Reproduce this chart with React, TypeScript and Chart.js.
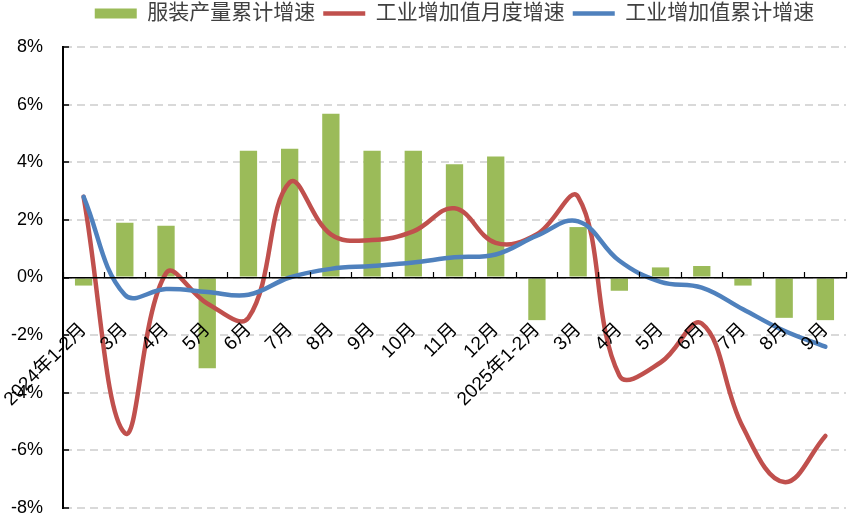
import React, { useEffect, useRef } from 'react';
import { Chart, registerables } from 'chart.js';

Chart.register(...registerables);

const categories = [
  '2024年1-2月', '3月', '4月', '5月', '6月', '7月', '8月', '9月', '10月', '11月', '12月',
  '2025年1-2月', '3月', '4月', '5月', '6月', '7月', '8月', '9月',
];

// 服装产量累计增速 (%)
const apparelOutputCum = [-0.28, 1.9, 1.8, -3.15, 4.4, 4.47, 5.68, 4.4, 4.4, 3.93, 4.2, -1.48, 1.75, -0.46, 0.35, 0.4, -0.28, -1.4, -1.48];
// 工业增加值月度增速 (%)
const industryMonthly = [2.8, -5.4, 0.15, -0.9, -1.4, 3.3, 1.5, 1.3, 1.6, 2.4, 1.2, 1.5, 2.8, -3.4, -2.95, -1.6, -5.2, -7.1, -5.5];
// 工业增加值累计增速 (%)
const industryCum = [2.8, -0.6, -0.4, -0.5, -0.6, 0.0, 0.3, 0.4, 0.52, 0.7, 0.8, 1.45, 1.95, 0.58, -0.15, -0.35, -1.1, -1.85, -2.4];

const Y_MIN = -8;
const Y_MAX = 8;
const Y_STEP = 2;

const FAMILY = '"Liberation Sans", "Noto Sans CJK SC", sans-serif';
const GREEN = '#9BBB59';
const RED = '#C0504D';
const BLUE = '#4F81BD';

export default function App() {
  const ref = useRef<HTMLCanvasElement>(null);

  useEffect(() => {
    if (!ref.current) return;
    const legendMargin = {
      id: 'legendMargin',
      afterInit(chart: any) {
        const legend = chart.legend;
        if (!legend) return;
        const fit = legend.fit;
        legend.fit = function () {
          fit.call(this);
          this.height += 13;
        };
      },
    };

    const chart = new Chart(ref.current, {
      type: 'bar',
      data: {
        labels: categories,
        datasets: [
          {
            type: 'bar',
            label: '服装产量累计增速',
            data: apparelOutputCum,
            backgroundColor: GREEN,
            borderWidth: 0,
            categoryPercentage: 1,
            barPercentage: 0.42,
            pointStyle: 'rect',
            order: 3,
          } as any,
          {
            type: 'line',
            label: '工业增加值月度增速',
            data: industryMonthly,
            borderColor: RED,
            backgroundColor: RED,
            borderWidth: 4.5,
            borderCapStyle: 'round',
            tension: 0.4,
            pointRadius: 0,
            pointStyle: 'line',
            fill: false,
            order: 2,
          } as any,
          {
            type: 'line',
            label: '工业增加值累计增速',
            data: industryCum,
            borderColor: BLUE,
            backgroundColor: BLUE,
            borderWidth: 4.5,
            borderCapStyle: 'round',
            tension: 0.4,
            pointRadius: 0,
            pointStyle: 'line',
            fill: false,
            order: 1,
          } as any,
        ],
      },
      options: {
        responsive: false,
        animation: false,
        layout: { padding: { top: -5, right: 5, bottom: 9, left: 0 } },
        plugins: {
          tooltip: { enabled: false },
          legend: {
            position: 'top',
            fullSize: false,
            labels: {
              usePointStyle: true,
              pointStyleWidth: 42,
              boxHeight: 10,
              padding: 8,
              color: '#404040',
              font: { size: 21, family: FAMILY },
              sort: (a: any, b: any) => a.datasetIndex - b.datasetIndex,
            },
          },
        },
        scales: {
          x: {
            type: 'category',
            position: { y: 0 } as any,
            offset: true,
            grid: {
              display: true,
              offset: true,
              drawOnChartArea: false,
              drawTicks: true,
              tickLength: 37,
              tickWidth: 0,
            },
            border: { display: true, color: '#000', width: 1.5, z: 1 },
            ticks: {
              autoSkip: false,
              minRotation: 45,
              maxRotation: 45,
              padding: 4,
              color: '#000',
              font: { size: 19, family: FAMILY, lineHeight: 1.2 },
              z: 1,
            },
          },
          x2: {
            type: 'category',
            position: { y: 0 } as any,
            offset: true,
            grid: {
              display: true,
              offset: true,
              drawOnChartArea: false,
              drawTicks: true,
              tickLength: -6,
              tickColor: '#000',
              tickWidth: 1.2,
              z: 1,
            },
            border: { display: false },
            ticks: { display: false },
          },
          y: {
            min: Y_MIN,
            max: Y_MAX,
            position: 'left',
            afterFit: (scale: any) => {
              scale.width = 63;
              scale.paddingTop = 0;
              scale.paddingBottom = 0;
            },
            ticks: {
              stepSize: Y_STEP,
              padding: 26,
              color: '#000',
              font: { size: 18, family: FAMILY, lineHeight: 1 },
              callback: (v: any) => `${v}%`,
            },
            grid: {
              color: '#d9d9d9',
              lineWidth: 2,
              drawTicks: true,
              tickLength: -6,
              tickColor: '#000',
              tickWidth: 1.5,
            },
            border: { display: true, color: '#000', width: 2, dash: [8, 5] },
          },
        },
      } as any,
      plugins: [legendMargin],
    });
    return () => chart.destroy();
  }, []);

  return (
    <div style={{ position: 'absolute', left: 0, top: 0, width: 851, height: 517, background: '#fff' }}>
      <canvas ref={ref} width={851} height={517} style={{ display: 'block', width: 851, height: 517 }} />
    </div>
  );
}
